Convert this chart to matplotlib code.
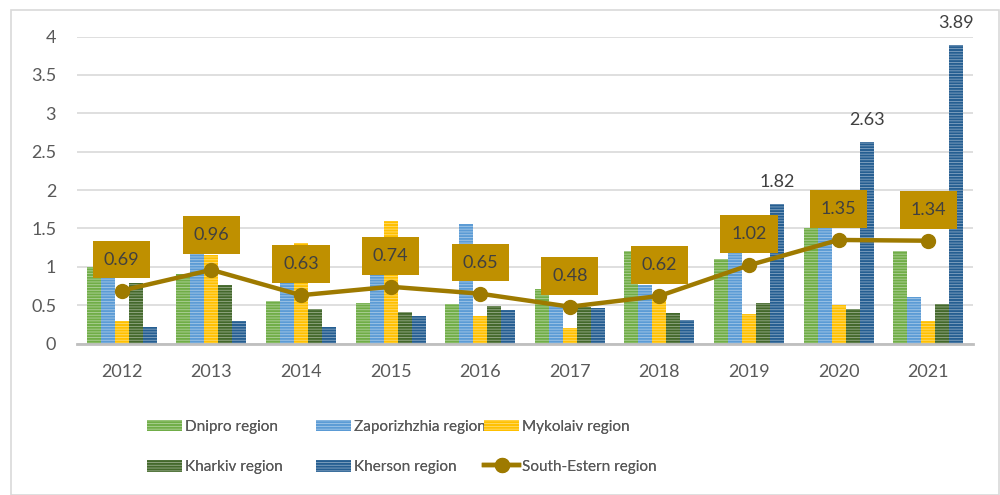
import matplotlib
matplotlib.use("Agg")
import matplotlib.pyplot as plt
import numpy as np
from matplotlib.patches import Rectangle

years = ["2012", "2013", "2014", "2015", "2016", "2017", "2018", "2019", "2020", "2021"]
dnipro = [1.00, 0.90, 0.55, 0.53, 0.51, 0.71, 1.21, 1.10, 1.50, 1.21]
zaporizhzhia = [0.95, 1.21, 0.81, 0.95, 1.56, 0.50, 0.76, 1.25, 1.60, 0.61]
mykolaiv = [0.30, 1.15, 1.31, 1.60, 0.36, 0.20, 0.60, 0.39, 0.50, 0.30]
kharkiv = [0.79, 0.76, 0.45, 0.41, 0.49, 0.48, 0.40, 0.53, 0.45, 0.52]
kherson = [0.21, 0.30, 0.21, 0.36, 0.44, 0.46, 0.31, 1.82, 2.63, 3.89]
south_eastern = [0.69, 0.96, 0.63, 0.74, 0.65, 0.48, 0.62, 1.02, 1.35, 1.34]
y_ticks = [0, 0.5, 1, 1.5, 2, 2.5, 3, 3.5, 4]
y_tick_labels = ["0", "0.5", "1", "1.5", "2", "2.5", "3", "3.5", "4"]

bar_series = [
    ("Dnipro region", dnipro, "#70AD47"),
    ("Zaporizhzhia region", zaporizhzhia, "#5B9BD5"),
    ("Mykolaiv region", mykolaiv, "#FFC000"),
    ("Kharkiv region", kharkiv, "#43682B"),
    ("Kherson region", kherson, "#255E91"),
]
line_label = "South-Estern region"
line_color = "#9E7A00"
box_color = "#BF9000"
text_color = "#595959"

plt.rcParams["font.family"] = ["Lato", "DejaVu Sans"]
plt.rcParams["hatch.linewidth"] = 0.6

def lighten(c, f):
    r, g, b = matplotlib.colors.to_rgb(c)
    return (r + (1 - r) * f, g + (1 - g) * f, b + (1 - b) * f)

fig = plt.figure(figsize=(10, 4.95), dpi=100)
ax = fig.add_axes([0.077, 0.306, 0.896, 0.620])

x = np.arange(len(years))
w = 0.156
handles = []
for i, (name, vals, col) in enumerate(bar_series):
    bars = ax.bar(x + (i - 2) * w, vals, width=w, color=col,
                  edgecolor=lighten(col, 0.45), linewidth=0, hatch="------",
                  label=name, zorder=2)
    handles.append(bars)
    if name == "Kherson region":
        for xi, v in zip(x, vals):
            if v > 1.5:
                ax.text(xi + (i - 2) * w, v + 0.18, f"{v:.2f}", ha="center", va="bottom",
                        fontsize=13, color="#404040", zorder=5)

ln, = ax.plot(x, south_eastern, color=line_color, lw=3.2, marker="o", ms=10,
              zorder=4, label=line_label)
handles.append(ln)

for xi, v in zip(x, south_eastern):
    off = 35 if xi == 1 else 31
    ax.annotate(f"{v:.2f}", (xi, v), xytext=(0, off * 0.72), textcoords="offset points",
                ha="center", va="center", fontsize=13, color="#404040", zorder=6,
                bbox=dict(boxstyle="square,pad=0.6", fc=box_color, ec="none"))

ax.set_xlim(-0.5, len(years) - 0.5)
ax.set_ylim(0, 4)
ax.set_yticks(y_ticks)
ax.set_yticklabels(y_tick_labels)
ax.set_xticks(x)
ax.set_xticklabels(years)
ax.tick_params(axis="both", length=0, labelsize=13, labelcolor=text_color)
ax.tick_params(axis="y", pad=15)
ax.tick_params(axis="x", pad=15)
ax.yaxis.grid(True, color="#D9D9D9", lw=1.2, zorder=0)
ax.set_axisbelow(True)
for s in ["top", "right", "left"]:
    ax.spines[s].set_visible(False)
ax.spines["bottom"].set_color("#BFBFBF")
ax.spines["bottom"].set_linewidth(2)
ax.spines["bottom"].set_zorder(3)

# legend: three equal-width columns
col_x = [0.147, 0.316, 0.484]
order = [[0, 3], [1, 4], [2, 5]]
labels = [n for n, _, _ in bar_series] + [line_label]
for cx, idxs in zip(col_x, order):
    leg = fig.legend([handles[j] for j in idxs], [labels[j] for j in idxs],
                     loc="upper left", bbox_to_anchor=(cx, 0.152),
                     frameon=False, fontsize=11, labelcolor=text_color,
                     handlelength=2.3, handleheight=0.8, handletextpad=0.2,
                     labelspacing=1.7, borderaxespad=0, borderpad=0)
    fig.add_artist(leg)

fig.add_artist(Rectangle((0.011, 0.0), 0.988, 0.98, transform=fig.transFigure,
                         fill=False, ec="#D9D9D9", lw=1.2))

fig.savefig("out.png", dpi=100)
